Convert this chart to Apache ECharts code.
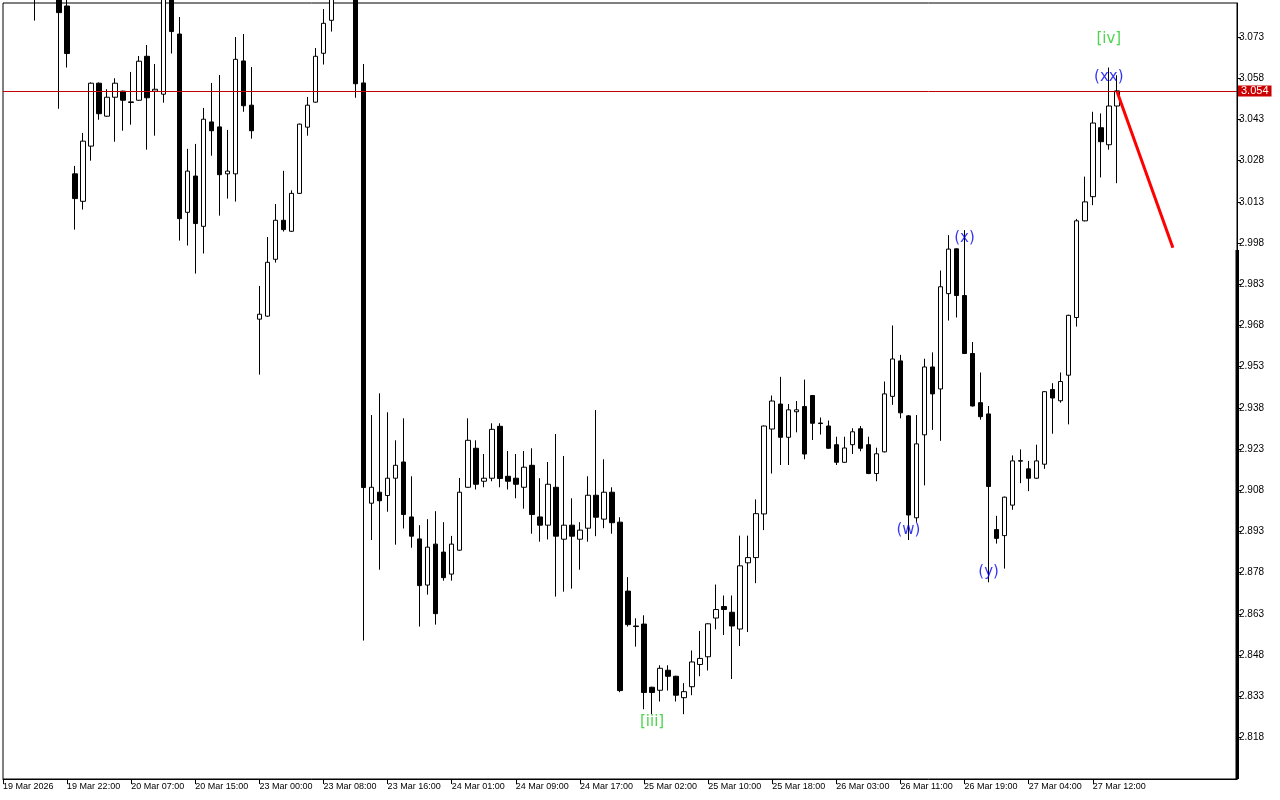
<!DOCTYPE html>
<html>
<head>
<meta charset="utf-8">
<script src="https://cdn.jsdelivr.net/npm/echarts@6/dist/echarts.min.js"></script>
<style>
html,body{margin:0;padding:0;background:#fff;}
#chart{width:1280px;height:800px;}
</style>
</head>
<body>
<div id="chart"></div>
<script>
const tickLabels = ['19 Mar 2026','19 Mar 22:00','20 Mar 07:00','20 Mar 15:00','23 Mar 00:00','23 Mar 08:00','23 Mar 16:00','24 Mar 01:00','24 Mar 09:00','24 Mar 17:00','25 Mar 02:00','25 Mar 10:00','25 Mar 18:00','26 Mar 03:00','26 Mar 11:00','26 Mar 19:00','27 Mar 04:00','27 Mar 12:00'];
const barsPerLabel = 8;
const slotCount = 155;
const yTicks = [2.818,2.833,2.848,2.863,2.878,2.893,2.908,2.923,2.938,2.953,2.968,2.983,2.998,3.013,3.028,3.043,3.058,3.073];

const opens = [3.095,3.099,3.097,3.101,3.096,3.093,3.097,3.092,3.0843,3.0232,
3.0132,3.0333,3.0562,3.0442,3.0511,3.0533,3.0494,3.0500,3.0660,3.0533,
3.0522,3.091,3.0741,3.0092,3.0224,3.0041,3.0421,3.0403,3.0232,3.0232,
3.0643,3.0482,2.9703,2.9714,2.9921,3.0063,3.0023,3.0161,3.0402,3.0493,
3.0671,3.0791,3.092,3.098,3.096,3.0563,2.9033,2.9073,2.9061,2.9124,
2.9183,2.8983,2.8903,2.8735,2.8884,2.8855,2.8775,2.8862,2.9091,2.9233,
2.9113,2.9124,2.9313,2.9131,2.9124,2.9091,2.9171,2.8983,2.8953,2.9091,
2.8902,2.8953,2.8902,2.8942,2.9062,2.8975,2.9073,2.8964,2.8713,2.8586,
2.8593,2.8363,2.8352,2.8425,2.8403,2.8325,2.8365,2.8446,2.8474,2.8615,
2.8657,2.8636,2.8575,2.8816,2.8835,2.8994,2.9303,2.9394,2.9273,2.9366,
2.9385,2.9425,2.9325,2.9314,2.9246,2.9182,2.9246,2.9304,2.9246,2.9141,
2.9220,2.9422,2.9551,2.9351,2.8980,2.9282,2.9529,2.9449,2.9796,2.9959,
2.9789,2.9578,2.9399,2.9358,2.8937,2.8915,2.9026,2.9186,2.9158,2.9124,
2.9175,2.9447,2.9406,2.9499,2.9709,3.0061,3.0149,3.0400,3.0338,3.0479];

const closes = [3.099,3.097,3.101,3.096,3.093,3.097,3.092,3.0819,3.0670,3.0142,
3.0351,3.0562,3.0451,3.0511,3.0562,3.0500,3.0492,3.0642,3.0509,3.0540,
3.090,3.0750,3.0069,3.0242,3.0051,3.0431,3.0389,3.0229,3.0242,3.0649,
3.0480,3.0389,2.9721,2.9910,3.0063,3.0029,3.0161,3.0413,3.0482,3.0660,
3.0780,3.092,3.098,3.095,3.0560,2.9090,2.9091,2.9042,2.9124,2.9171,
2.8992,2.8913,2.8733,2.8873,2.8631,2.8762,2.8884,2.9073,2.9262,2.9102,
2.9124,2.9302,2.9123,2.9113,2.9102,2.9164,2.8992,2.8953,2.9102,2.8913,
2.8953,2.8913,2.8935,2.9062,2.8982,2.9073,2.8962,2.8351,2.8591,2.8584,
2.8344,2.8344,2.8432,2.8403,2.8334,2.8347,2.8455,2.8468,2.8594,2.8646,
2.8646,2.8586,2.8805,2.8835,2.8995,2.9314,2.9405,2.9273,2.9373,2.9373,
2.9212,2.9324,2.9323,2.9233,2.9182,2.9234,2.9293,2.9233,2.9141,2.9213,
2.9431,2.9558,2.9362,2.8990,2.9249,2.9529,2.9431,2.9821,2.9958,2.9789,
2.9578,2.9387,2.9348,2.9094,2.8905,2.9055,2.9187,2.9188,2.9124,2.9187,
2.9439,2.9416,2.9476,2.9717,3.0061,3.0130,3.0417,3.0349,3.0479,3.0534];

const lows = [3.092,3.094,3.095,3.093,3.0790,3.089,3.088,3.0469,3.0619,3.0029,
3.0102,3.0280,3.0429,3.0440,3.0349,3.0389,3.0411,3.0498,3.0320,3.0371,
3.0491,3.0670,2.9989,2.9971,2.9869,2.9942,3.0298,3.0080,3.0142,3.0131,
3.0458,3.0360,2.9501,2.9712,2.9909,3.0022,3.0021,3.0159,3.0371,3.0491,
3.0630,3.0750,3.089,3.090,3.0509,2.8533,2.8899,2.8791,2.9002,2.8882,
2.8941,2.8871,2.8584,2.8700,2.8591,2.8751,2.8751,2.8860,2.9089,2.9083,
2.9091,2.9113,2.9091,2.9083,2.9051,2.9013,2.8922,2.8893,2.8901,2.8693,
2.8711,2.8722,2.8791,2.8893,2.8913,2.8942,2.8922,2.8345,2.8584,2.8511,
2.8283,2.8265,2.8311,2.8351,2.8311,2.8265,2.8334,2.8403,2.8424,2.8574,
2.8553,2.8393,2.8513,2.8564,2.8742,2.8935,2.9141,2.9172,2.9172,2.9291,
2.9193,2.9263,2.9283,2.9231,2.9172,2.9180,2.9212,2.9222,2.9139,2.9113,
2.9218,2.9391,2.9342,2.8899,2.8965,2.9098,2.9300,2.9260,2.9698,2.9709,
2.9576,2.9385,2.9337,2.8745,2.8886,2.8795,2.9009,2.9106,2.9077,2.9122,
2.9158,2.9286,2.9399,2.9320,2.9676,3.0059,3.0118,3.0219,3.0320,3.0198];

const highs = [3.103,3.104,3.106,3.104,3.099,3.101,3.100,3.095,3.088,3.0261,
3.0381,3.0565,3.0565,3.0540,3.0580,3.0535,3.0603,3.0661,3.0701,3.0632,
3.093,3.094,3.0803,3.0323,3.0341,3.0472,3.0563,3.0592,3.0392,3.0730,
3.0741,3.0621,2.9824,3.0002,3.0122,3.0243,3.0172,3.0415,3.0512,3.0690,
3.0832,3.095,3.101,3.102,3.099,3.0632,2.9354,2.9433,2.9364,2.9262,
2.9342,2.9131,2.8953,2.8975,2.9004,2.8964,2.8914,2.9125,2.9342,2.9262,
2.9212,2.9324,2.9324,2.9223,2.9212,2.9223,2.9233,2.9124,2.9183,2.9285,
2.9205,2.9051,2.8964,2.9131,2.9372,2.9193,2.9091,2.8982,2.8764,2.8614,
2.8625,2.8365,2.8443,2.8443,2.8405,2.8378,2.8497,2.8568,2.8596,2.8737,
2.8697,2.8697,2.8915,2.8915,2.9047,2.9316,2.9425,2.9493,2.9394,2.9405,
2.9483,2.9427,2.9345,2.9334,2.9275,2.9275,2.9306,2.9314,2.9275,2.9235,
2.9476,2.9680,2.9573,2.9354,2.9354,2.9559,2.9582,2.9880,3.0009,2.9961,
3.0027,2.9620,2.9509,2.9387,2.8987,2.9057,2.9207,2.9229,2.9187,2.9246,
2.9441,2.9470,2.9509,2.9719,3.0068,3.0222,3.0458,3.0452,3.0619,3.0591];

const lastPrice = 3.0534;
const lastPriceLabel = '3.054';
const forecastX = [139, 146];
const forecastY = [3.0534, 2.9963];

const waveText = ['[iii]','(w)','(x)','(y)','[iv]','(xx)'];
const waveIdx = [81, 113, 120, 123, 138, 138];
const waveVal = [2.8237, 2.8936, 2.9999, 2.8783, 3.0723, 3.0585];
const waveColor = ['#22cc22','#0000f0','#0000f0','#0000f0','#22cc22','#0000f0'];

const slots = Array.from({length: slotCount}, (_, i) => String(i));
const candles = opens.map((o, i) => [o, closes[i], lows[i], highs[i]]);
const waveData = waveText.map((t, i) => ({
  value: [waveIdx[i], waveVal[i]],
  label: { formatter: t, color: waveColor[i] }
}));

const chart = echarts.init(document.getElementById('chart'), null, {renderer: 'canvas'});
chart.setOption({
  animation: false,
  backgroundColor: '#ffffff',
  grid: { left: 2, right: 43, top: 3, bottom: 21, show: true, borderColor: '#000', borderWidth: 1, backgroundColor: '#fff' },
  xAxis: {
    type: 'category',
    data: slots,
    boundaryGap: false,
    axisLine: { show: true, lineStyle: { color: '#000', width: 1 } },
    axisTick: { show: true, length: 5, interval: (i) => i % barsPerLabel === 0 && i / barsPerLabel < tickLabels.length, lineStyle: { color: '#000' } },
    axisLabel: {
      show: true,
      interval: (i) => i % barsPerLabel === 0 && i / barsPerLabel < tickLabels.length,
      formatter: (v, i) => tickLabels[i / barsPerLabel] || '',
      align: 'left',
      margin: 3,
      fontFamily: 'Liberation Sans',
      fontSize: 9,
      color: '#000'
    },
    splitLine: { show: false }
  },
  yAxis: {
    type: 'value',
    position: 'right',
    min: 2.8029,
    max: 3.0854,
    axisLine: { show: true, lineStyle: { color: '#000', width: 1 } },
    axisTick: { show: true, length: 4, customValues: yTicks, lineStyle: { color: '#000' } },
    axisLabel: {
      show: true,
      customValues: yTicks,
      formatter: (v) => v.toFixed(3),
      margin: 2,
      fontFamily: 'Liberation Sans',
      fontSize: 10,
      color: '#000'
    },
    splitLine: { show: false }
  },
  series: [
    {
      type: 'candlestick',
      data: candles,
      barWidth: 5,
      clip: true,
      itemStyle: { color: '#ffffff', color0: '#000000', borderColor: '#000000', borderColor0: '#000000', borderWidth: 1 },
      z: 2
    },
    {
      type: 'line',
      data: forecastX.map((x, i) => [x, forecastY[i]]),
      symbol: 'none',
      lineStyle: { color: '#ff0000', width: 3 },
      markLine: {
        silent: true,
        symbol: ['none', 'none'],
        animation: false,
        precision: 4,
        lineStyle: { color: '#c00000', width: 1, type: 'solid' },
        label: {
          show: true,
          position: 'end',
          formatter: lastPriceLabel,
          color: '#fff',
          backgroundColor: '#cc0000',
          fontFamily: 'Liberation Sans',
          fontSize: 11,
          padding: [0, 3, 0, 3],
          lineHeight: 11,
          distance: 1
        },
        data: [[
          { coord: [slots[0], lastPrice] },
          { coord: [slots[slotCount - 1], lastPrice] }
        ]]
      },
      z: 4
    },
    {
      type: 'scatter',
      data: waveData,
      symbolSize: 0,
      label: { show: true, position: 'inside', fontFamily: 'DejaVu Sans', fontSize: 15 },
      z: 5
    }
  ],
  graphic: [
    { type: 'rect', shape: { x: 1235.5, y: 250, width: 3.5, height: 529 }, style: { fill: '#000' }, z: 100 }
  ]
});
</script>
</body>
</html>
